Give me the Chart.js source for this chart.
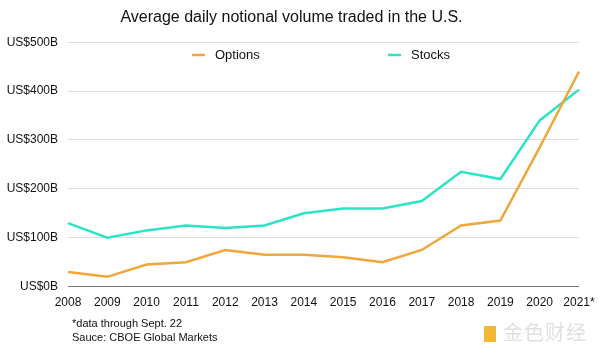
<!DOCTYPE html>
<html>
<head>
<meta charset="utf-8">
<script src="https://cdn.jsdelivr.net/npm/chart.js@4"></script>
<style>
  html, body { margin: 0; padding: 0; background: #fff; }
  #wrap { position: relative; width: 600px; height: 354px; }
  .note { position: absolute; left: 72px; font: 11px "Liberation Sans", Arial, sans-serif; color: #111; }
  .mark { position: absolute; left: 484px; top: 318px; font: 20px "Noto Sans CJK SC", sans-serif; line-height: 28px; color: #e0e0e0; letter-spacing: 1px; }
  .mark span { display: inline-block; width: 12px; height: 16px; background: #f2b632; margin-right: 7px; vertical-align: -2px; border-radius: 1px; }
</style>
</head>
<body>
<div id="wrap">
  <canvas id="chart" width="600" height="354"></canvas>
  <div class="note" style="top:317px">*data through Sept. 22</div>
  <div class="note" style="top:331px">Sauce: CBOE Global Markets</div>
  <div class="mark"><span></span>金色财经</div>
</div>
<script>
// years on the x axis
const years = ["2008", "2009", "2010", "2011", "2012", "2013", "2014", "2015", "2016", "2017", "2018", "2019", "2020", "2021*"];
// average daily notional volume, US$ billions
const options = [30, 20, 45, 50, 75, 65, 65, 60, 50, 75, 125, 135, 285, 440];
const stocks = [130, 100, 115, 125, 120, 125, 150, 160, 160, 175, 235, 220, 340, 403];
const yTicks = [0, 100, 200, 300, 400, 500];

const orange = "#f0a73a";
const teal = "#2de3c6";
const font = "'Liberation Sans', Arial, sans-serif";

// legend drawn inside the plot, like the original
const innerLegend = {
  id: "innerLegend",
  afterDraw(chart) {
    const ctx = chart.ctx;
    const xs = [192, 388];
    ctx.save();
    ctx.font = "13px " + font;
    ctx.textBaseline = "middle";
    chart.data.datasets.forEach((ds, i) => {
      ctx.strokeStyle = ds.borderColor;
      ctx.lineWidth = 2.5;
      ctx.beginPath();
      ctx.moveTo(xs[i], 55);
      ctx.lineTo(xs[i] + 13, 55);
      ctx.stroke();
      ctx.fillStyle = "#111";
      ctx.fillText(ds.label, xs[i] + 23, 55);
    });
    ctx.restore();
  }
};

new Chart(document.getElementById("chart"), {
  type: "line",
  data: {
    labels: years,
    datasets: [
      { label: "Options", data: options, borderColor: orange, backgroundColor: orange, borderWidth: 2.5, pointRadius: 0, tension: 0 },
      { label: "Stocks", data: stocks, borderColor: teal, backgroundColor: teal, borderWidth: 2.5, pointRadius: 0, tension: 0 }
    ]
  },
  options: {
    responsive: false,
    animation: false,
    layout: { padding: { left: 4, right: 21, top: 0, bottom: 43 } },
    plugins: {
      legend: { display: false },
      tooltip: { enabled: false },
      title: {
        display: true,
        text: "Average daily notional volume traded in the U.S.",
        color: "#111",
        font: { family: font, size: 16, weight: "normal" },
        padding: { top: 8, bottom: 15 }
      }
    },
    scales: {
      x: {
        offset: false,
        grid: { display: false },
        border: { display: false },
        ticks: { color: "#111", font: { family: font, size: 12 }, maxRotation: 0, autoSkip: false, padding: 1 }
      },
      y: {
        min: 0,
        max: 500,
        afterBuildTicks(s) { s.ticks = yTicks.map(v => ({ value: v })); },
        afterFit(s) { s.width = 64; },
        border: { display: false },
        grid: {
          color: c => (c.tick && c.tick.value === 0 ? "#777" : "#ddd"),
          lineWidth: 1,
          drawTicks: false
        },
        ticks: {
          color: "#111",
          font: { family: font, size: 12 },
          padding: 10,
          callback: v => "US$" + v + "B"
        }
      }
    }
  },
  plugins: [innerLegend]
});
</script>
</body>
</html>
